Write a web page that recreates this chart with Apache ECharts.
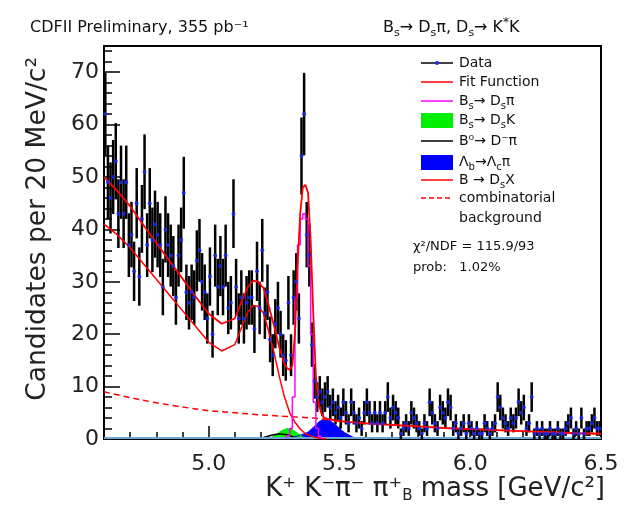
<!DOCTYPE html>
<html><head><meta charset="utf-8">
<script src="https://cdn.jsdelivr.net/npm/echarts@6/dist/echarts.min.js"></script>
<style>html,body{margin:0;padding:0;background:#fff}#c{width:625px;height:511px}</style>
</head><body><div id="c"></div>
<script>
// ---- histogram (10 MeV bins from 4.60 GeV) ----
const binLow = 4.60, binWidth = 0.01;
const counts = [
 62,49,46,50,53,43,49,43,49,37,
 39,32,45,31,42,51,37,45,38,41,
 39,37,29,40,37,35,33,27,35,38,
 47,28,26,28,27,34,36,30,28,23,
 31,20,35,29,33,29,35,25,26,43,
 29,23,27,23,26,27,27,21,32,25,
 36,24,28,19,16,22,25,20,16,15,
 26,16,27,30,23,54,62,39,35,18,
 11,8,9,7,8,9,6,7,5,6,
 4,7,5,3,7,5,3,4,2,5,
 7,5,3,5,3,5,3,5,8,4,
 6,5,4,1,2,3,2,5,4,3,
 2,1,3,2,7,5,3,2,6,5,
 4,7,6,2,3,1,2,3,1,3,
 2,1,2,1,1,3,2,1,2,3,
 8,6,4,3,2,4,3,4,7,5,
 6,2,3,8,1,2,1,2,1,1,
 2,1,1,2,1,1,2,3,4,1,
 2,1,4,1,2,2,3,4,2,2
];
const binCenters = counts.map((_, i) => +(binLow + binWidth * (i + 0.5)).toFixed(3));

// ---- fit function (total) ----
const fitMass = [4.60,4.65,4.70,4.75,4.80,4.85,4.90,4.95,5.00,5.05,5.10,5.13,5.15,5.17,5.19,5.21,5.23,5.25,5.27,5.29,5.30,5.31,5.32,5.33,5.34,5.35,5.36,5.37,5.38,5.39,5.40,5.41,5.42,5.43,5.44,5.46,5.50,5.60,5.70,5.80,5.90,6.00,6.10,6.20,6.30,6.40,6.50];
const fitVal  = [50.0,47.4,44.4,40.9,37.4,34.0,30.6,27.2,23.9,22.0,23.0,26.7,29.0,30.2,30.0,28.8,25.4,21.6,17.5,14.3,13.5,13.2,14.0,20,33,43,48,48.5,47,38,24,12,7,5,4.1,3.8,3.4,3.0,2.7,2.4,2.1,1.9,1.7,1.5,1.3,1.1,1.0];

// ---- combinatorial background (dashed) ----
const combMass = [4.60,4.70,4.80,4.90,5.00,5.10,5.20,5.30,5.40,5.50,5.60,5.70,5.80,5.90,6.00,6.10,6.20,6.30,6.40,6.50];
const combVal  = [9.0,7.9,6.9,6.1,5.4,5.0,4.6,4.3,4.0,3.4,3.0,2.7,2.4,2.1,1.9,1.7,1.5,1.3,1.1,1.0];

// ---- B -> Ds X ----
const dsxMass = [4.60,4.65,4.70,4.75,4.80,4.85,4.90,4.95,5.00,5.05,5.10,5.13,5.15,5.17,5.19,5.21,5.23,5.25,5.27,5.29,5.31,5.33,5.35,5.37,5.39,5.41,5.43,5.45];
const dsxVal  = [41,39,36.5,33.5,30.5,27.5,24.5,21.5,18.5,16.8,18,21.8,24.2,25.5,25.3,24,20.5,16.5,12,8,5,3.2,1.9,1.0,0.6,0.3,0.1,0];

// ---- Bs -> Ds pi (signal, histogram-like) ----
const sigMass = [5.295,5.305,5.315,5.325,5.335,5.345,5.355,5.365,5.375,5.385,5.395,5.405,5.415,5.425,5.435];
const sigVal  = [0.2,0.6,2,8,27,37,42,43,42,33,20,7,2,0.5,0.1];

// ---- Bs -> Ds K (green) ----
const dskMass = [5.22,5.24,5.26,5.28,5.30,5.32,5.34,5.36,5.38,5.40];
const dskVal  = [0,0.3,0.9,1.6,2.0,1.8,1.1,0.4,0.1,0];

// ---- B0 -> D pi (black) ----
const bdMass = [5.18,5.21,5.24,5.27,5.30,5.33,5.36];
const bdVal  = [0,0.3,0.7,1.0,0.8,0.3,0];

// ---- Lambda_b -> Lambda_c pi (blue) ----
const lbMass = [5.30,5.33,5.36,5.38,5.40,5.42,5.44,5.46,5.48,5.50,5.52,5.55,5.58];
const lbVal  = [0,0.4,0.9,1.3,2.2,3.2,3.8,3.6,2.9,2.0,1.2,0.4,0];

// ---- axis tick labels ----
const xTickLabels = [5.0, 5.5, 6.0, 6.5];
const yTickLabels = [0,10,20,30,40,50,60,70];

const F = "'DejaVu Sans', 'Liberation Sans', sans-serif";
const pair = (xs, ys) => xs.map((x, i) => [x, ys[i]]);
const yMinor = [];
for (let v = 2; v < 75; v += 2) if (v % 10 !== 0) yMinor.push(v);

const chart = echarts.init(document.getElementById('c'), null, {renderer: 'canvas'});

const lineBase = {type: 'line', symbol: 'none', showSymbol: false, animation: false, silent: true, xAxisIndex: 0, yAxisIndex: 0};

const legendY = {data: 63, fit: 82, sig: 101, dsk: 120, bd: 141, lb: 162, dsx: 180, comb: 198, bkg: 218};
const richLeg = {
  n: {fontSize: 14, fontFamily: F, fill: '#111', lineHeight: 20},
  s: {fontSize: 10, fontFamily: F, fill: '#111', lineHeight: 13, verticalAlign: 'bottom'},
  p: {fontSize: 10, fontFamily: F, fill: '#111', lineHeight: 11, verticalAlign: 'top'}
};
function legText(y, text) {
  return {type: 'text', x: 459, y: y, z: 100, style: {text: text, rich: richLeg, align: 'left', verticalAlign: 'middle', fontSize: 14, fontFamily: F, fill: '#111'}};
}
function legLine(y, color, dash) {
  return {type: 'line', z: 100, shape: {x1: 421, y1: y, x2: 453, y2: y}, style: {stroke: color, lineWidth: 1.5, lineDash: dash || null}};
}

const option = {
  backgroundColor: '#ffffff',
  animation: false,
  grid: {left: 104, right: 24, top: 46, bottom: 72, show: true, borderColor: '#000', borderWidth: 2, backgroundColor: 'transparent'},
  xAxis: [
    {type: 'value', min: 4.6, max: 6.5, interval: 0.1,
     axisLine: {show: true, onZero: false, lineStyle: {color: '#000', width: 2}},
     axisTick: {show: true, inside: true, length: 7, lineStyle: {color: '#000', width: 1.5}},
     axisLabel: {show: true, customValues: xTickLabels, formatter: v => v.toFixed(1), fontSize: 22, fontFamily: F, color: '#222', margin: 14},
     splitLine: {show: false}},
    {type: 'value', min: 4.6, max: 6.5, position: 'bottom',
     axisLine: {show: false},
     axisTick: {show: true, inside: true, length: 13, customValues: xTickLabels, lineStyle: {color: '#000', width: 1.5}},
     axisLabel: {show: false}, splitLine: {show: false}}
  ],
  yAxis: [
    {type: 'value', min: 0, max: 75,
     axisLine: {show: true, onZero: false, lineStyle: {color: '#000', width: 2}},
     axisTick: {show: true, inside: true, length: 16, customValues: yTickLabels, lineStyle: {color: '#000', width: 1.5}},
     axisLabel: {show: true, customValues: yTickLabels, fontSize: 22, fontFamily: F, color: '#222', margin: 5},
     splitLine: {show: false}},
    {type: 'value', min: 0, max: 75, position: 'left',
     axisLine: {show: false},
     axisTick: {show: true, inside: true, length: 8, customValues: yMinor, lineStyle: {color: '#000', width: 1.5}},
     axisLabel: {show: false}, splitLine: {show: false}}
  ],
  series: [
    Object.assign({}, lineBase, {name: 'Lambda_b', data: pair(lbMass, lbVal), z: 3,
      lineStyle: {color: '#0000ff', width: 1}, areaStyle: {color: '#0000ff', opacity: 1}}),
    Object.assign({}, lineBase, {name: 'DsK', data: pair(dskMass, dskVal), z: 3,
      lineStyle: {color: '#00ee00', width: 1}, areaStyle: {color: '#00ee00', opacity: 1}}),
    Object.assign({}, lineBase, {name: 'B0', data: pair(bdMass, bdVal), z: 4,
      lineStyle: {color: '#000000', width: 1.5}}),
    {type: 'custom', name: 'Data bars', xAxisIndex: 0, yAxisIndex: 0, animation: false, silent: true, z: 5, clip: true,
     data: binCenters.map((m, i) => [m, counts[i], Math.sqrt(counts[i])]),
     renderItem: function (params, api) {
       const x = api.value(0), y = api.value(1), e = api.value(2);
       const top = api.coord([x, y + e]), bot = api.coord([x, y - e]), c = api.coord([x, y]);
       const hw = api.size([binWidth, 0])[0] / 2;
       return {type: 'group', children: [
         {type: 'line', shape: {x1: top[0], y1: top[1], x2: bot[0], y2: bot[1]}, style: {stroke: '#000', lineWidth: 2.5}},
         {type: 'line', shape: {x1: c[0] - hw, y1: c[1], x2: c[0] + hw, y2: c[1]}, style: {stroke: '#000', lineWidth: 1}}
       ]};
     }},
    Object.assign({}, lineBase, {name: 'Comb', data: pair(combMass, combVal), z: 6,
      lineStyle: {color: '#ff0000', width: 1.5, type: [6, 4]}}),
    Object.assign({}, lineBase, {name: 'DsX', data: pair(dsxMass, dsxVal), z: 6,
      lineStyle: {color: '#ff0000', width: 1.5}}),
    Object.assign({}, lineBase, {name: 'Signal', data: pair(sigMass, sigVal), z: 7, step: 'middle',
      lineStyle: {color: '#ff00ff', width: 1.5}}),
    Object.assign({}, lineBase, {name: 'Fit', data: pair(fitMass, fitVal), z: 8,
      lineStyle: {color: '#ff0000', width: 1.8},
      markLine: {silent: true, symbol: 'none', label: {show: false}, animation: false,
        lineStyle: {color: '#6aa7d8', width: 2, type: 'solid'}, data: [{yAxis: 0.3}]}}),
    {type: 'scatter', name: 'Data', xAxisIndex: 0, yAxisIndex: 0, animation: false, silent: true, z: 10,
     symbol: 'circle', symbolSize: 4, itemStyle: {color: '#1a2cff'},
     data: binCenters.map((m, i) => [m, counts[i]])}
  ],
  graphic: [
    {type: 'text', x: 30, y: 28, z: 100, style: {text: 'CDFII Preliminary, 355 pb⁻¹', fontSize: 16, fontFamily: F, fill: '#111', align: 'left', verticalAlign: 'middle'}},
    {type: 'text', x: 383, y: 28, z: 100, style: {
      text: '{n|B}{s|s}{n|→ D}{s|s}{n|π, D}{s|s}{n|→ K}{p|*}{n|K}',
      rich: {n: {fontSize: 16, fontFamily: F, fill: '#111', lineHeight: 22},
             s: {fontSize: 11, fontFamily: F, fill: '#111', lineHeight: 14, verticalAlign: 'bottom'},
             p: {fontSize: 12, fontFamily: F, fill: '#111', lineHeight: 12, verticalAlign: 'top'}},
      align: 'left', verticalAlign: 'middle'}},
    {type: 'text', x: 38, y: 57, rotation: Math.PI / 2, z: 100, style: {text: 'Candidates per 20 MeV/c²', fontSize: 26.5, fontFamily: F, fill: '#222', align: 'right', verticalAlign: 'middle'}},
    {type: 'text', x: 605, y: 489, z: 100, style: {
      text: '{n|K⁺ K⁻π⁻ π⁺}{s|B}{n| mass [GeV/c²]}',
      rich: {n: {fontSize: 26, fontFamily: F, fill: '#222', lineHeight: 30},
             s: {fontSize: 15, fontFamily: F, fill: '#222', lineHeight: 18, verticalAlign: 'bottom'}},
      align: 'right', verticalAlign: 'middle'}},
    // legend
    legLine(legendY.data, '#000'),
    {type: 'circle', z: 101, shape: {cx: 437, cy: legendY.data, r: 2}, style: {fill: '#1a2cff'}},
    legText(legendY.data, '{n|Data}'),
    legLine(legendY.fit, '#ff0000'),
    legText(legendY.fit, '{n|Fit Function}'),
    legLine(legendY.sig, '#ff00ff'),
    legText(legendY.sig, '{n|B}{s|s}{n|→ D}{s|s}{n|π}'),
    {type: 'rect', z: 100, shape: {x: 421, y: legendY.dsk - 7, width: 32, height: 15}, style: {fill: '#00ee00'}},
    legText(legendY.dsk, '{n|B}{s|s}{n|→ D}{s|s}{n|K}'),
    legLine(legendY.bd, '#000'),
    legText(legendY.bd, '{n|B⁰→ D⁻π}'),
    {type: 'rect', z: 100, shape: {x: 421, y: legendY.lb - 7, width: 32, height: 15}, style: {fill: '#0000ff'}},
    legText(legendY.lb, '{n|Λ}{s|b}{n|→Λ}{s|c}{n|π}'),
    legLine(legendY.dsx, '#ff0000'),
    legText(legendY.dsx, '{n|B → D}{s|s}{n|X}'),
    legLine(legendY.comb, '#ff0000', [5, 3]),
    legText(legendY.comb, '{n|combinatorial}'),
    legText(legendY.bkg, '{n|background}'),
    {type: 'text', x: 413, y: 247, z: 100, style: {text: 'χ²/NDF = 115.9/93', fontSize: 13, fontFamily: F, fill: '#111', align: 'left', verticalAlign: 'middle'}},
    {type: 'text', x: 413, y: 268, z: 100, style: {text: 'prob:   1.02%', fontSize: 13, fontFamily: F, fill: '#111', align: 'left', verticalAlign: 'middle'}}
  ]
};
chart.setOption(option);
</script>
</body></html>
